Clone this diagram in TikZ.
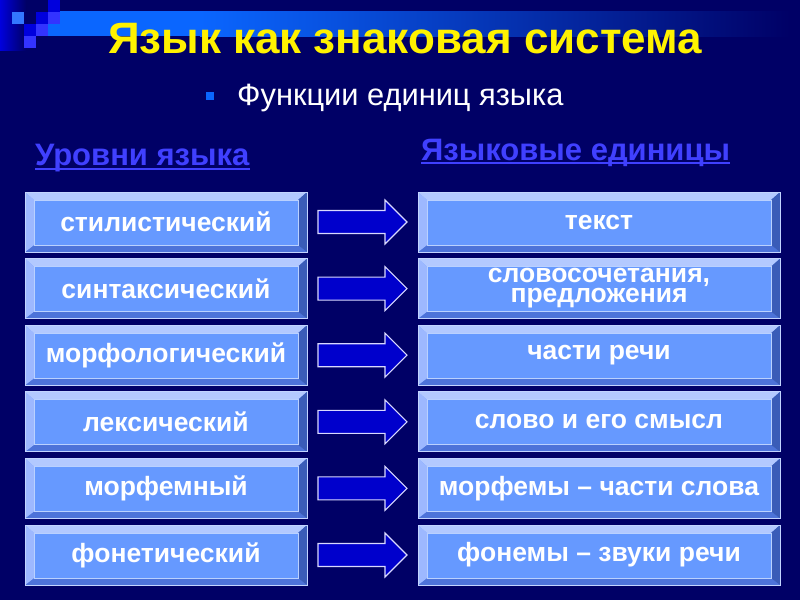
\documentclass[tikz,border=0pt]{standalone}
\usepackage{fontspec}
\setmainfont{Liberation Sans}
\usetikzlibrary{calc}
\definecolor{bg}{HTML}{000066}
\definecolor{face}{HTML}{6699FF}
\definecolor{bevtop}{HTML}{B3C9FF}
\definecolor{bevleft}{HTML}{9DB8FF}
\definecolor{bevbot}{HTML}{4D73D9}
\definecolor{bevright}{HTML}{3A5CB8}
\definecolor{headblue}{HTML}{4040FF}
\definecolor{arrowfill}{HTML}{0000CC}
\definecolor{band}{HTML}{0A66FF}
\definecolor{sqA}{HTML}{3377FF}
\definecolor{sqB}{HTML}{0000DD}
\definecolor{sqC}{HTML}{3333FF}
\tikzset{
  bevelbox/.style={rectangle, inner sep=0pt, minimum height=60pt, fill=face,
    draw=bevtop!80!white, line width=0.8pt, text=white, align=center,
    font=\fontsize{26.5}{20}\selectfont\bfseries,
    path picture={
      \path (path picture bounding box.north west) coordinate (pNW)
            (path picture bounding box.north east) coordinate (pNE)
            (path picture bounding box.south west) coordinate (pSW)
            (path picture bounding box.south east) coordinate (pSE);
      \fill[bevtop] (pNW) -- (pNE) -- ([shift={(-9pt,-8pt)}]pNE) -- ([shift={(9pt,-8pt)}]pNW) -- cycle;
      \fill[bevbot] (pSW) -- (pSE) -- ([shift={(-9pt,7pt)}]pSE) -- ([shift={(9pt,7pt)}]pSW) -- cycle;
      \fill[bevleft] (pNW) -- ([shift={(9pt,-8pt)}]pNW) -- ([shift={(9pt,7pt)}]pSW) -- (pSW) -- cycle;
      \fill[bevright] (pNE) -- ([shift={(-9pt,-8pt)}]pNE) -- ([shift={(-9pt,7pt)}]pSE) -- (pSE) -- cycle;
      \draw[white!55!face, line width=0.9pt] ([shift={(9pt,-8pt)}]pNW) rectangle ([shift={(-9pt,7pt)}]pSE);
    }},
  leftbox/.style={bevelbox, minimum width=282pt},
  rightbox/.style={bevelbox, minimum width=362pt},
  blockarrow/.style={fill=arrowfill, draw=white!85!blue, line width=1.1pt, line join=miter},
  heading/.style={text=headblue, font=\fontsize{31}{33}\selectfont\bfseries, inner sep=0pt, anchor=base west},
  uline/.style={draw=headblue, line width=1.8pt}
}
\begin{document}
\begin{tikzpicture}[x=1pt,y=-1pt]
\useasboundingbox (0,0) rectangle (800,600);
\fill[bg] (0,0) rectangle (800,600);
% top decoration
\shade[left color=sqB, right color=bg] (0,0) rectangle (26,50);
\fill[band] (48,11) rectangle (200,36);
\shade[left color=band, right color=band!80!bg] (200,11) rectangle (330,36);
\shade[left color=band!80!bg, right color=bg] (330,11) rectangle (790,36);
\fill[sqA] (12,12) rectangle (24,24);
\fill[sqB] (36,12) rectangle (48,24);
\fill[sqC] (48,12) rectangle (60,24);
\fill[sqB] (48,0) rectangle (60,12);
\fill[sqB] (24,24) rectangle (36,36);
\fill[sqC] (36,24) rectangle (48,36);
\fill[sqC] (24,36) rectangle (36,48);
% title
\node[text=yellow, font=\fontsize{44}{48}\selectfont\bfseries, inner sep=0pt, anchor=base] (title) at (405,53) {Язык как знаковая система};
% subtitle
\node[text=white, font=\fontsize{30.8}{32}\selectfont, inner sep=0pt, anchor=base west] (sub) at (237,105) {Функции единиц языка};
\fill[band] (206,92) rectangle (214,100);
% headings
\node[heading] (hl) at (35,165) {Уровни языка};
\draw[uline] ([yshift=-4pt]hl.base west) -- ([yshift=-4pt]hl.base east);
\node[heading] (hr) at (421,160) {Языковые единицы};
\draw[uline] ([yshift=-3pt]hr.base west) -- ([yshift=-3pt]hr.base east);
% boxes
\foreach \i/\lt/\rt in {1/стилистический/текст,
  2/синтаксический/{словосочетания,\\предложения},
  3/морфологический/части речи,
  4/лексический/слово и его смысл,
  5/морфемный/морфемы – части слова,
  6/фонетический/фонемы – звуки речи}{
  \pgfmathsetmacro\yy{222+(\i-1)*66.6}
  \node[leftbox] (l\i) at (166,\yy) {\lt};
  \node[rightbox] (r\i) at (599,\yy) {\rt};
  \coordinate (a\i) at ($(l\i.east)!0.5!(r\i.west)$);
  \filldraw[blockarrow, shift={(a\i)}] (-44.5,-11.5) -- (22.5,-11.5) -- (22.5,-22) -- (44.5,0) -- (22.5,22) -- (22.5,11.5) -- (-44.5,11.5) -- cycle;
}
\end{tikzpicture}
\end{document}
